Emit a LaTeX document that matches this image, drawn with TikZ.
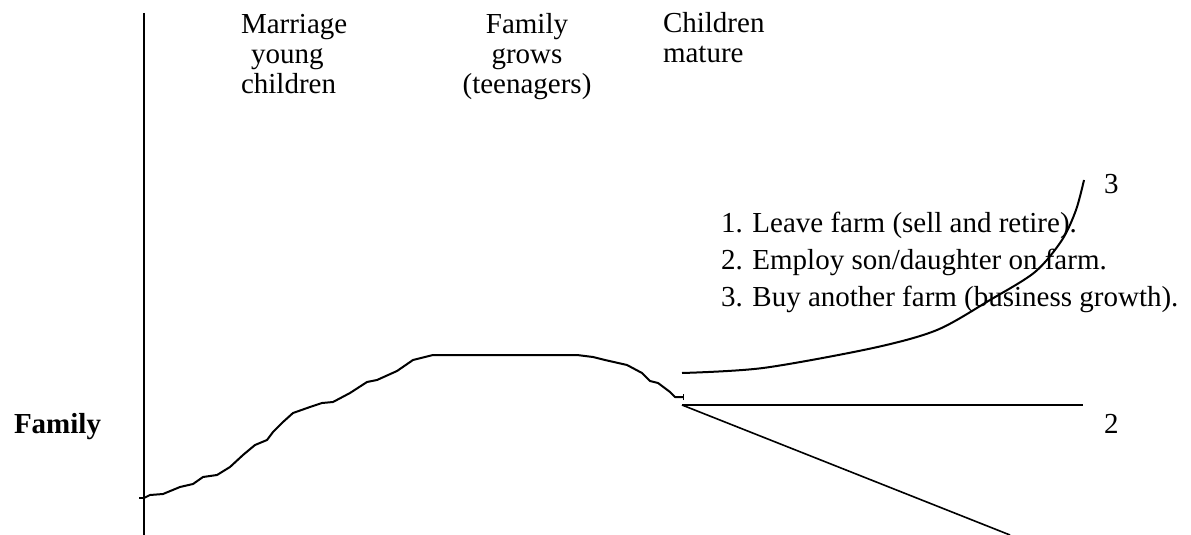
\documentclass[tikz,border=0pt]{standalone}
\usepackage{fontspec}
\setmainfont{Liberation Serif}
\usetikzlibrary{positioning}

\begin{document}
\begin{tikzpicture}[x=1pt,y=-1pt,line width=2pt,line join=round]
  % 设置样式
  \tikzstyle{every node}=[inner sep=0pt,font=\fontsize{29}{30}\selectfont]
  \tikzstyle{stage}=[anchor=base west,align=left]
  \useasboundingbox (0,0) rectangle (1191,535);

  % 坐标轴
  \coordinate (top) at (144,13);
  \coordinate (bottom) at (144,535);
  \coordinate (start) at (144,498);
  \draw (top) -- (bottom);
  \draw ([xshift=-5pt]start) -- (start);

  % 阶段标签 (基线为最后一行)
  \node[stage] (marriage) at (240,93) {Marriage\\\hspace*{10pt}young\\children};
  \node[anchor=base,align=center] (grows) at (527,93) {Family\\grows\\(teenagers)};
  \node[stage] (mature) at (662,63) {Children\\mature};
  \node[anchor=base west,font=\fontsize{29}{30}\selectfont\bfseries] (family) at (13,433) {Family};

  % 家庭曲线
  \coordinate (split) at (682,405);
  \coordinate (upper) at (682,373);
  \draw (start) -- (150,495) -- (163,494) -- (180,487) -- (193,484) -- (203,477)
    -- (217,475) -- (230,467) -- (243,455) -- (255,445) -- (267,440) -- (273,432)
    -- (283,422) -- (293,413) -- (310,407) -- (322,403) -- (333,402) -- (350,393)
    -- (367,382) -- (377,380) -- (397,371) -- (413,360) -- (433,355) -- (577,355)
    -- (593,357) -- (605,360) -- (627,365) -- (642,373) -- (650,381) -- (658,383)
    -- (670,392) -- (675,397) -- (683,397) coordinate (fork);
  \draw[line width=1pt] ([yshift=-3pt]fork) -- ([yshift=3pt]fork);

  % 三种选择
  \coordinate (end2) at (1083,405);
  \coordinate (end1) at (1010,535);
  \coordinate (end3) at (1084,180);
  \draw (split) -- (end2);
  \draw[line width=1.6pt] (split) -- (end1);
  \draw plot[smooth] coordinates {(upper) (763,368) (873,348) (937,330) (990,300)
    (1035,272) (1062,240) (1076,210) (end3)};

  \node[stage,font=\fontsize{29}{37}\selectfont] (options) at (720,306) {1. Leave farm (sell and retire).\\2. Employ son/daughter on farm.\\3. Buy another farm (business growth).};
  \node[anchor=base west] (three) at (1103,193) {3};
  \node[anchor=base west] (two) at (1103,433) {2};
\end{tikzpicture}
\end{document}
